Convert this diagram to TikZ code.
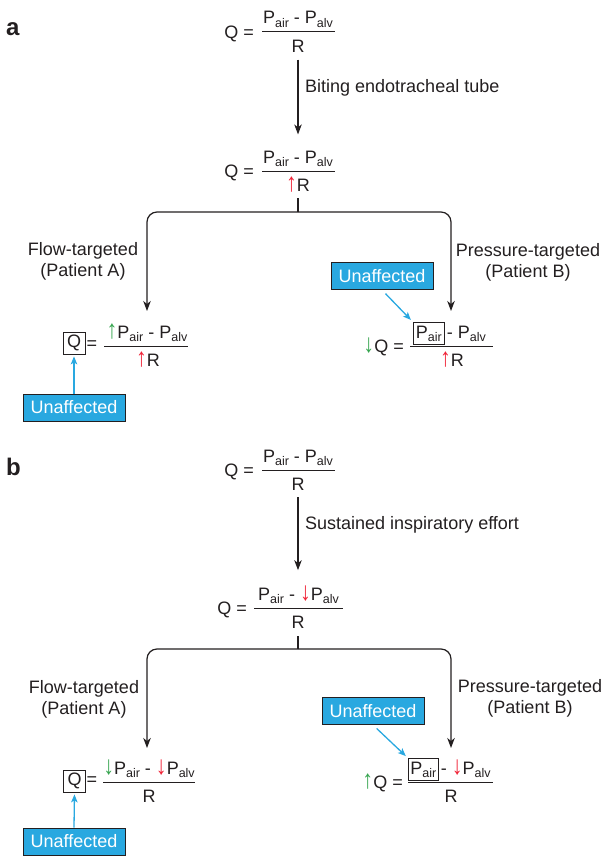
\documentclass[tikz,border=0pt]{standalone}
\usepackage{fontspec}
\setmainfont{Liberation Sans}
\usetikzlibrary{arrows.meta,positioning}

\definecolor{ink}{RGB}{35,31,32}
\definecolor{tagblue}{RGB}{41,168,224}
\definecolor{rise}{RGB}{55,165,80}
\definecolor{risered}{RGB}{240,35,55}

\newcommand{\msz}{\fontsize{18}{21}\selectfont}
\newcommand{\ssz}{\fontsize{12.5}{14}\selectfont}
\newcommand{\sbs}[1]{\raisebox{-0.35ex}{\ssz #1}}
\newcommand{\Pair}{P\sbs{air}}
\newcommand{\Palv}{P\sbs{alv}}
\newcommand{\tallarr}[2]{\textcolor{#1}{\scalebox{1.2}[1.45]{#2}}}
\newcommand{\gup}{\tallarr{rise}{↑}}
\newcommand{\gdn}{\tallarr{rise}{↓}}
\newcommand{\rup}{\tallarr{risered}{↑}}
\newcommand{\rdn}{\tallarr{risered}{↓}}

\tikzset{
  lbl/.style={font=\msz, text=ink, inner sep=0pt},
  panel/.style={font=\fontsize{24}{26}\selectfont\bfseries, text=ink, inner sep=0pt},
  fracbar/.style={draw=ink, line width=1pt},
  flow/.style={draw=ink, line width=1.2pt, -{Stealth[length=10pt,width=7.5pt,inset=3pt]}},
  branch/.style={draw=ink, line width=1.2pt, rounded corners=10pt},
  keybox/.style={draw=ink, line width=0.8pt, minimum height=22pt},
  tagbox/.style={draw=ink, fill=tagblue, text=white, line width=1pt, font=\msz,
    inner sep=0pt, minimum width=102pt, minimum height=27pt},
  point/.style={draw=tagblue, line width=1.3pt, -{Stealth[length=8pt,width=6.5pt,inset=2pt]}},
}

\begin{document}
\begin{tikzpicture}[x=1pt,y=-1pt]
  \useasboundingbox (0,0) rectangle (603,856);

  % panel a
  \node[panel, anchor=base west] (pnla) at (6,36) {a};

  \node[lbl, anchor=base east] (qa1) at (254,38.5) {Q =};
  \node[lbl, anchor=base] (na1) at (298,24) {\Pair{} - \Palv};
  \draw[fracbar] (262,32) -- (335,32);
  \node[lbl, anchor=base] (da1) at (298,52.5) {R};

  \node[lbl, anchor=base east] (qa2) at (254,177.5) {Q =};
  \node[lbl, anchor=base] (na2) at (298,163) {\Pair{} - \Palv};
  \draw[fracbar] (262,171) -- (335,171);
  \node[lbl, anchor=base] (da2) at (298,191.5) {\rup R};

  \draw[flow, shorten <=7pt, shorten >=16pt] (da1.south) -- (na2.north);
  \node[lbl, anchor=base west] (ta) at (305,93) {Biting endotracheal tube};

  \coordinate (ja) at (298,212);
  \coordinate (la) at (147,311);
  \coordinate (ra) at (451,311);
  \draw[branch, shorten <=6pt] (da2.south) -- (ja);
  \draw[branch, flow] (ja) -| (la);
  \draw[branch, flow] (ja) -| (ra);

  \node[lbl, align=center] (fa) at (83,261.5) {Flow-targeted\\(Patient A)};
  \node[lbl, align=center] (pa) at (528,262) {Pressure-targeted\\(Patient B)};

  % patient A
  \node[lbl, keybox, minimum width=22pt] (qa3) at (74,343) {Q};
  \node[lbl] (ea3) at (92,345) {=};
  \node[lbl, anchor=base] (na3) at (147,338) {\gup\Pair{} - \Palv};
  \draw[fracbar] (104,346) -- (188,346);
  \node[lbl, anchor=base] (da3) at (148,366.5) {\rup R};
  \node[tagbox] (ua3) at (74,407.5) {Unaffected};
  \draw[point, shorten >=2pt] (ua3.north) -- (qa3.south);

  % patient B
  \node[lbl, anchor=base east] (qa4) at (404,352) {\gdn Q =};
  \node[lbl, keybox, inner xsep=2.5pt, anchor=base west] (pka4) at (413,338) {\Pair};
  \node[lbl, anchor=base west] (na4) at (pka4.base east) {\hspace{2pt}- \Palv};
  \draw[fracbar] (410,346) -- (493,346);
  \node[lbl, anchor=base] (da4) at (452,366.5) {\rup R};
  \node[tagbox] (ua4) at (382,276) {Unaffected};
  \draw[point, shorten <=5pt, shorten >=3pt] (ua4.south) -- (pka4.north west);

  % panel b
  \node[panel, anchor=base west] (pnlb) at (6,475) {b};

  \node[lbl, anchor=base east] (qb1) at (254,476.5) {Q =};
  \node[lbl, anchor=base] (nb1) at (298,462) {\Pair{} - \Palv};
  \draw[fracbar] (262,470) -- (335,470);
  \node[lbl, anchor=base] (db1) at (298,490.5) {R};

  \node[lbl, anchor=base east] (qb2) at (247,614.5) {Q =};
  \node[lbl, anchor=base] (nb2) at (298.5,600) {\Pair{} - \rdn\Palv};
  \draw[fracbar] (254,608) -- (343,608);
  \node[lbl, anchor=base] (db2) at (298,628.5) {R};

  \draw[flow, shorten <=6.5pt, shorten >=15pt] (db1.south) -- (db1.south |- nb2.north);
  \node[lbl, anchor=base west] (tb) at (305,529) {Sustained inspiratory effort};

  \coordinate (jb) at (298,649);
  \coordinate (lb) at (147,748);
  \coordinate (rb) at (451,748);
  \draw[branch, shorten <=7.5pt] (db2.south) -- (jb);
  \draw[branch, flow] (jb) -| (lb);
  \draw[branch, flow] (jb) -| (rb);

  \node[lbl, align=center] (fb) at (84,699.5) {Flow-targeted\\(Patient A)};
  \node[lbl, align=center] (pb) at (530,698.5) {Pressure-targeted\\(Patient B)};

  % patient A
  \node[lbl, keybox, minimum width=22pt] (qb3) at (74.5,781) {Q};
  \node[lbl] (eb3) at (92,781) {=};
  \node[lbl, anchor=base] (nb3) at (149,774) {\gdn\Pair{} - \rdn\Palv};
  \draw[fracbar] (103,782) -- (195,782);
  \node[lbl, anchor=base] (db3) at (149,802.5) {R};
  \node[tagbox] (ub3) at (74,841.5) {Unaffected};
  \draw[point, shorten >=2pt] (ub3.north) -- (qb3.south);

  % patient B
  \node[lbl, anchor=base east] (qb4) at (403,788.5) {\gup Q =};
  \node[lbl, keybox, inner xsep=2pt, anchor=base west] (pkb4) at (408,774) {\Pair};
  \node[lbl, anchor=base west] (nb4) at (pkb4.base east) {\hspace{2pt}- \rdn\Palv};
  \draw[fracbar] (408,782) -- (493,782);
  \node[lbl, anchor=base] (db4) at (451,802.5) {R};
  \node[tagbox] (ub4) at (373,711) {Unaffected};
  \draw[point, shorten <=5pt, shorten >=3pt] (ub4.south) -- (pkb4.north west);
\end{tikzpicture}
\end{document}
